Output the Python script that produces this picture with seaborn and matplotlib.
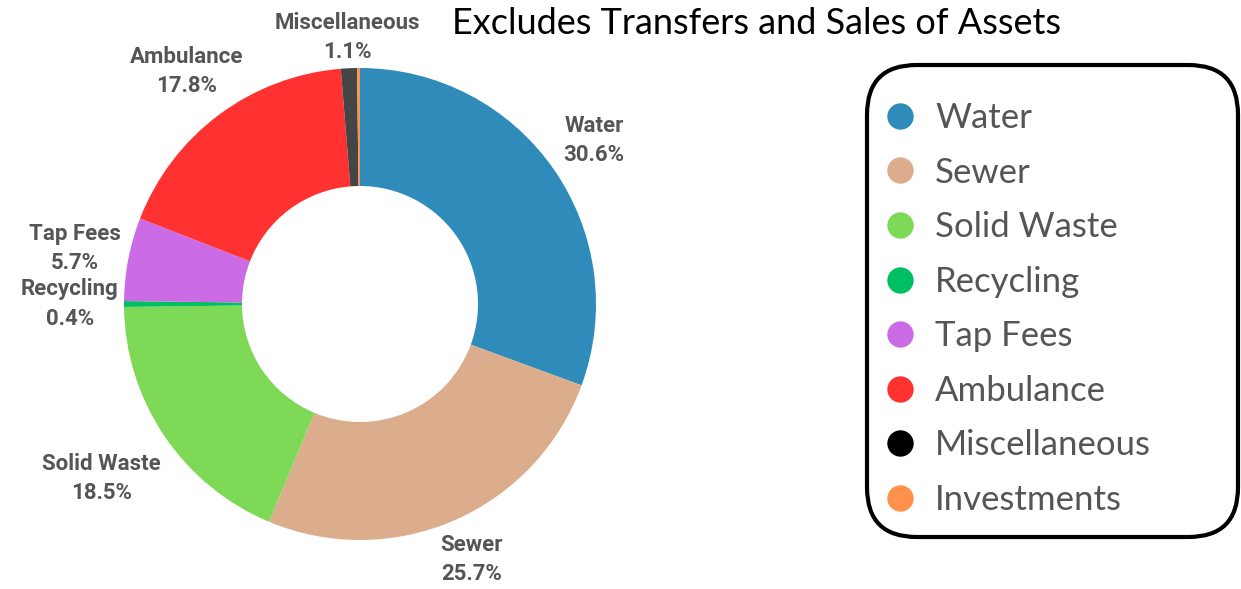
import matplotlib
matplotlib.use("Agg")
import matplotlib.pyplot as plt
from matplotlib.lines import Line2D
from matplotlib.patches import FancyBboxPatch
import numpy as np
import seaborn as sns

# Dados
categorias = ['Water', 'Sewer', 'Solid Waste', 'Recycling', 'Tap Fees', 'Ambulance', 'Miscellaneous', 'Investments']
percentuais = [30.6, 25.7, 18.5, 0.4, 5.7, 17.8, 1.1, 0.2]
rotulos = ['Water\n30.6%', 'Sewer\n25.7%', 'Solid Waste\n18.5%', 'Recycling\n0.4%',
           'Tap Fees\n5.7%', 'Ambulance\n17.8%', 'Miscellaneous\n1.1%', '']
cores_fatias = ['#2E8BBA', '#DBAD8C', '#7ED957', '#00BF63', '#CB6CE6', '#FF3131', '#454545', '#FF914D']
cores_legenda = ['#2E8BBA', '#DBAD8C', '#7ED957', '#00BF63', '#CB6CE6', '#FF3131', '#000000', '#FF914D']
titulo = 'Excludes Transfers and Sales of Assets'

sns.set_theme(style="white")
plt.rcParams['font.family'] = ['Lato', 'DejaVu Sans']

W, H = 1241, 589
fig = plt.figure(figsize=(W / 100, H / 100), dpi=100)
fig.patch.set_facecolor('white')

# Eixo cobrindo a figura inteira, 1 unidade = raio do donut (236 px)
ax = fig.add_axes([0, 0, 1, 1])
raio_px = 236
cx, cy = 360, H - 304
wedges, textos = ax.pie(
    percentuais,
    colors=sns.color_palette(cores_fatias),
    startangle=90,
    counterclock=False,
    radius=1,
    labels=rotulos,
    labeldistance=1.23,
    wedgeprops=dict(width=0.5, linewidth=0),
    textprops=dict(fontsize=16, fontweight='bold', color='#555555',
                   family=['Liberation Sans Narrow', 'Roboto', 'DejaVu Sans'],
                   linespacing=1.42),
)
for t in textos:
    t.set_horizontalalignment('center')
    t.set_multialignment('center')

# Ajustes finos de distância do rótulo
ajuste = {'Miscellaneous\n1.1%': 1.13, 'Solid Waste\n18.5%': 1.32,
          'Sewer\n25.7%': 1.18, 'Water\n30.6%': 1.21}
for w, t in zip(wedges, textos):
    lbl = t.get_text()
    if lbl in ajuste:
        ang = np.deg2rad((w.theta1 + w.theta2) / 2)
        d = ajuste[lbl]
        t.set_position((d * np.cos(ang), d * np.sin(ang)))

ax.set_xlim(-cx / raio_px, (W - cx) / raio_px)
ax.set_ylim(-cy / raio_px, (H - cy) / raio_px)
ax.set_aspect('auto')
ax.axis('off')

# Título
fig.text(757 / W, 1 - 23 / H, titulo, ha='center', va='center', fontsize=26, color='#000000')

# Caixa da legenda
caixa = FancyBboxPatch((867 / W, 1 - 537 / H), (1238 - 867) / W, (537 - 65) / H,
                       boxstyle="round,pad=0,rounding_size=0.04",
                       transform=fig.transFigure, facecolor='white', edgecolor='black',
                       linewidth=3, mutation_aspect=W / H)
fig.patches.append(caixa)

handles = [Line2D([0], [0], marker='o', linestyle='', markersize=19,
                  markerfacecolor=c, markeredgewidth=0) for c in cores_legenda]
leg = fig.legend(handles, categorias, loc='upper left', bbox_to_anchor=(887 / W, 1 - 102 / H),
                 frameon=False, fontsize=25, handlelength=0.77, handletextpad=0.62,
                 labelspacing=0.65, borderpad=0, borderaxespad=0, labelcolor='#555555')

plt.savefig('out.png', dpi=100)
